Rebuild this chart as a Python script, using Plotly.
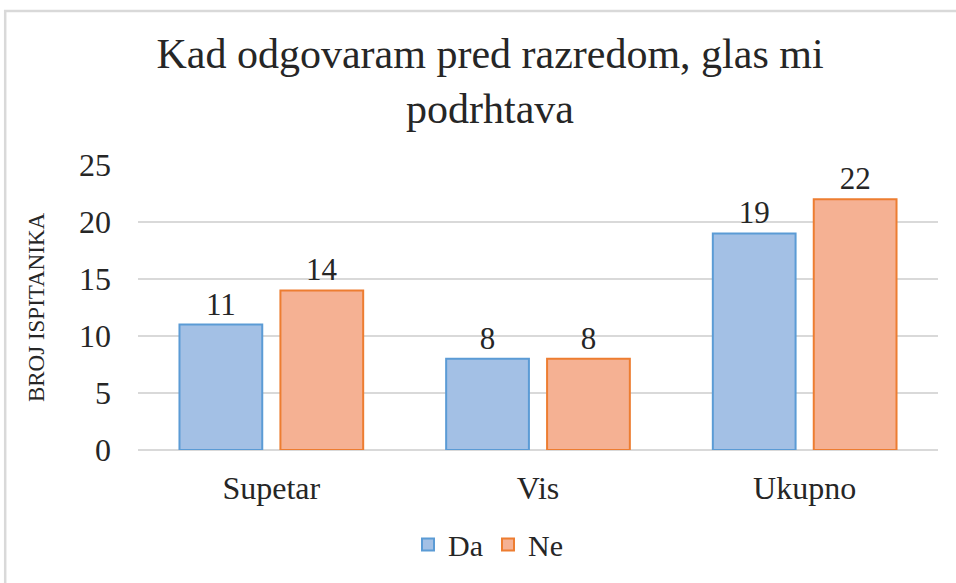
import plotly.graph_objects as go

categories = ["Supetar", "Vis", "Ukupno"]
da_values = [11, 8, 19]
ne_values = [14, 8, 22]
series_names = ["Da", "Ne"]
title_text = "Kad odgovaram pred razredom, glas mi<br>podrhtava"
y_title = "BROJ ISPITANIKA"
y_ticks = [0, 5, 10, 15, 20, 25]

FONT = "Liberation Serif"
TXT = "#262626"

fig = go.Figure()
fig.add_trace(go.Bar(
    x=categories, y=da_values, name=series_names[0],
    marker=dict(color="#a3c0e5", line=dict(color="#5b9bd5", width=2)),
    text=da_values, textposition="outside", cliponaxis=False,
    textfont=dict(family=FONT, size=31, color=TXT),
))
fig.add_trace(go.Bar(
    x=categories, y=ne_values, name=series_names[1],
    marker=dict(color="#f5b193", line=dict(color="#ed7d31", width=2)),
    text=ne_values, textposition="outside", cliponaxis=False,
    textfont=dict(family=FONT, size=31, color=TXT),
))

fig.update_layout(
    width=956, height=583,
    margin=dict(l=138, r=18, t=165, b=133, autoexpand=False),
    paper_bgcolor="white", plot_bgcolor="white",
    barmode="group", bargap=0.243, bargroupgap=0.18,
    font=dict(family=FONT, color=TXT),
    title=dict(text=title_text, x=0.5126, xanchor="center", y=0.883, yanchor="top",
               font=dict(family=FONT, size=42, color=TXT)),
    legend=dict(orientation="h", x=0.4375, xanchor="center", y=-0.24, yanchor="top",
                font=dict(family=FONT, size=30, color=TXT),
                itemwidth=30, traceorder="normal"),
    xaxis=dict(showline=False, showgrid=False, ticks="", automargin=False,
               tickfont=dict(family=FONT, size=32, color=TXT),
               ticklabelstandoff=16),
    yaxis=dict(range=[0, 25], tickvals=y_ticks, showgrid=True, gridcolor="#d9d9d9",
               gridwidth=2, zeroline=True, zerolinecolor="#d9d9d9", zerolinewidth=2,
               showline=False, ticks="", automargin=False,
               tickfont=dict(family=FONT, size=32, color=TXT),
               ticklabelstandoff=26,
               title=dict(text=y_title, font=dict(family=FONT, size=23, color=TXT),
                          standoff=27)),
)

fig.add_shape(type="rect", xref="paper", yref="paper",
              x0=-0.166, x1=1.3, y0=-1.0, y1=1.540,
              line=dict(color="#d9d9d9", width=2.5), fillcolor="rgba(0,0,0,0)", layer="below")

fig.write_html("out.html", config={"displayModeBar": False},
               post_script="document.body.style.margin='0';")
